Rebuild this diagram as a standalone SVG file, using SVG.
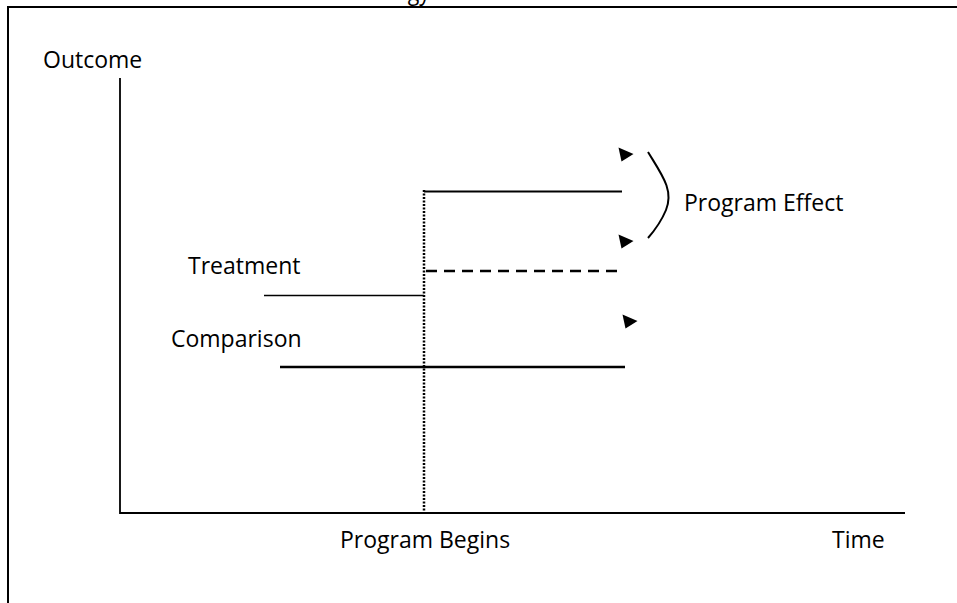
<svg xmlns="http://www.w3.org/2000/svg" width="957" height="603" viewBox="0 0 957 603">
<style>
  text { font-family: "Open Sans", "Noto Sans", "Liberation Sans", sans-serif; font-size: 23px; fill: #000; }
  .ln { stroke: #000; fill: none; }
</style>
<defs>
  <polygon id="tri" points="0,0 15,6.5 3,14" fill="#000"/>
</defs>
<rect width="957" height="603" fill="#fff"/>
<text id="title" x="45" y="0" textLength="385" lengthAdjust="spacingAndGlyphs" fill="#666">Difference-in-Differences Methodology</text>
<g id="frame">
  <path class="ln" d="M8,603 V7 H957" stroke-width="2"/>
</g>
<g id="axes">
  <path class="ln" d="M120,78 V513 H905" stroke-width="1.8"/>
  <text x="43" y="68">Outcome</text>
  <text x="832" y="548">Time</text>
</g>
<g id="connectors">
  <line id="program-begins-line" class="ln" x1="424" y1="190" x2="424" y2="512" stroke-width="2.5" stroke-dasharray="2 1.5"/>
  <line id="treatment-pre" class="ln" x1="264" y1="295.5" x2="424" y2="295.5" stroke-width="1.6"/>
  <line id="treatment-post" class="ln" x1="424" y1="191.5" x2="622" y2="191.5" stroke-width="2.2"/>
  <line id="counterfactual" class="ln" x1="426" y1="271" x2="622" y2="271" stroke-width="2.5" stroke-dasharray="11 7"/>
  <line id="comparison-line" class="ln" x1="280" y1="367" x2="625" y2="367" stroke-width="2.5"/>
  <path id="brace" class="ln" d="M648,152 C662,175 674,190 666,210 C661,222 655,230 648,238" stroke-width="2"/>
  <use href="#tri" x="618.5" y="147.5"/>
  <use href="#tri" x="618.5" y="234.5"/>
  <use href="#tri" x="622.5" y="314.5"/>
</g>
<g id="treatment"><text x="188" y="274">Treatment</text></g>
<g id="comparison"><text x="171" y="347">Comparison</text></g>
<g id="program-effect"><text x="684" y="211">Program Effect</text></g>
<g id="program-begins"><text x="340" y="548">Program Begins</text></g>
</svg>
